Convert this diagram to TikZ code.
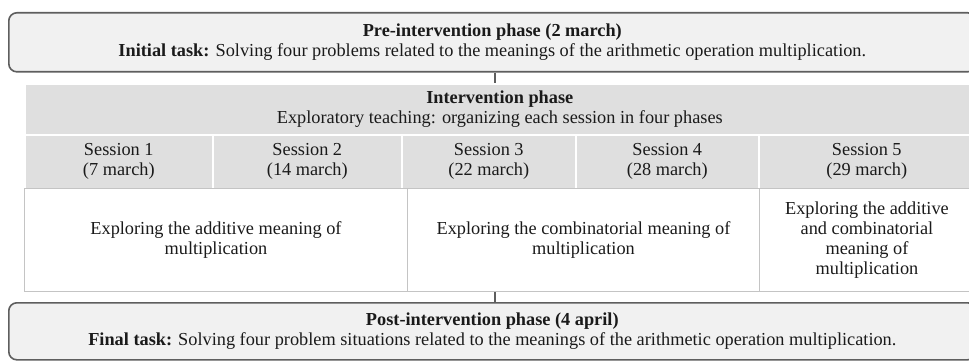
\documentclass[tikz,border=0pt]{standalone}
\usepackage{fontspec}
\setmainfont{Liberation Serif}
\newcommand\diagfont{\fontsize{18.3}{20}\selectfont}
\definecolor{phaseline}{HTML}{5E5E5E}
\definecolor{phasefill}{HTML}{F1F1F1}
\definecolor{hdrfill}{HTML}{DFDFDF}
\definecolor{cellline}{HTML}{C4C4C4}
\definecolor{txt}{HTML}{1A1A1A}
\begin{document}
\begin{tikzpicture}[x=1pt,y=-1pt,
  every node/.style={text=txt},
  phasebox/.style={draw=phaseline, line width=1.6pt, fill=phasefill, rounded corners=8pt,
    minimum width=967pt, inner sep=0pt, anchor=north west, align=center, font=\diagfont},
  hcell/.style={fill=hdrfill, draw=white, line width=1.6pt, inner sep=0pt,
    anchor=north west, align=center, font=\diagfont},
  ccell/.style={fill=white, draw=cellline, line width=0.9pt, inner sep=0pt,
    anchor=north west, align=center, font=\diagfont},
  link/.style={draw=phaseline, line width=1.2pt}
]
\useasboundingbox (0,0) rectangle (969,361);
\clip (0,0) rectangle (969,361);

% pre-intervention
\node[phasebox, minimum height=59pt] (pre) at (8,12)
  {\textbf{Pre-intervention phase (2 march)}\\
   \textbf{Initial task:} Solving four problems related to the meanings of the arithmetic operation multiplication.};

% intervention header
\node[hcell, minimum width=950pt, minimum height=51pt] (hdr) at (24,83)
  {\textbf{Intervention phase}\\Exploratory teaching: organizing each session in four phases};

% sessions
\node[hcell, minimum width=188pt, minimum height=54pt] (s1) at (24,134) {Session 1\\(7 march)};
\node[hcell, minimum width=189pt, minimum height=54pt] (s2) at (212,134) {Session 2\\(14 march)};
\node[hcell, minimum width=174pt, minimum height=54pt] (s3) at (401,134) {Session 3\\(22 march)};
\node[hcell, minimum width=183pt, minimum height=54pt] (s4) at (575,134) {Session 4\\(28 march)};
\node[hcell, minimum width=216pt, minimum height=54pt] (s5) at (758,134) {Session 5\\(29 march)};

% contents
\node[ccell, minimum width=383pt, minimum height=103pt] (c1) at (24,188)
  {Exploring the additive meaning of\\multiplication};
\node[ccell, minimum width=352pt, minimum height=103pt] (c2) at (407,188)
  {Exploring the combinatorial meaning of\\multiplication};
\node[ccell, minimum width=215pt, minimum height=103pt] (c3) at (759,188)
  {Exploring the additive\\and combinatorial\\meaning of\\multiplication};

% post-intervention
\node[phasebox, minimum height=57pt] (post) at (8,302)
  {\textbf{Post-intervention phase (4 april)}\\
   \textbf{Final task:} Solving four problem situations related to the meanings of the arithmetic operation multiplication.};

% connectors
\coordinate (lx) at (495,0);
\draw[link] (pre.south -| lx) -- (hdr.north -| lx);
\draw[link] (c1.south -| lx) -- (post.north -| lx);
\end{tikzpicture}
\end{document}
